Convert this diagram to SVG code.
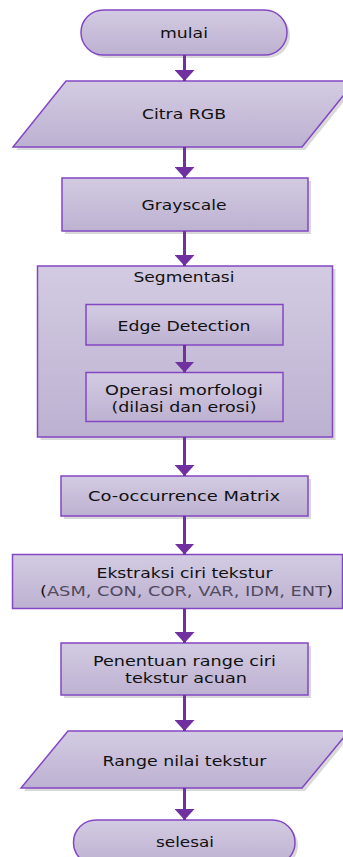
<svg xmlns="http://www.w3.org/2000/svg" width="343" height="857" viewBox="0 0 343 857">
<defs>
<linearGradient id="g" x1="0" y1="0" x2="0" y2="1">
<stop offset="0" stop-color="#d3cbe2"/>
<stop offset="1" stop-color="#bdb1d1"/>
</linearGradient>
<marker id="a" markerUnits="userSpaceOnUse" markerWidth="12" markerHeight="20" refX="11" refY="10" orient="auto" viewBox="0 0 12 20">
<path d="M0,0 L11,10 L0,20 Z" fill="#7030a0"/>
</marker>
</defs>
<style>
.s{fill:url(#g);stroke:#8447c4;stroke-width:1.5}
.sh{fill:#d9d9d9}
.t{font-family:"DejaVu Sans","Open Sans",sans-serif;font-size:14px;fill:#111;text-anchor:middle}
.c{stroke:#7030a0;stroke-width:3;fill:none;marker-end:url(#a)}
</style>
<g id="mulai">
<rect class="sh" x="84" y="13" width="206" height="45" rx="22.5"/>
<rect class="s" x="81" y="10" width="206" height="45" rx="22.5"/>
<text class="t" x="184" y="38" textLength="48" lengthAdjust="spacingAndGlyphs">mulai</text>
</g>
<g id="citra">
<polygon class="sh" points="69,84 358,84 305,150 16,150"/>
<polygon class="s" points="66,81 355,81 302,147 13,147"/>
<text class="t" x="184" y="118.5" textLength="84" lengthAdjust="spacingAndGlyphs">Citra RGB</text>
</g>
<g id="grayscale">
<rect class="sh" x="65" y="181" width="246" height="53"/>
<rect class="s" x="62" y="178" width="246" height="53"/>
<text class="t" x="184" y="209.5" textLength="85" lengthAdjust="spacingAndGlyphs">Grayscale</text>
</g>
<g id="segmentasi">
<rect class="sh" x="40.5" y="269" width="295" height="171"/>
<rect class="s" x="37.5" y="266" width="295" height="171"/>
<text class="t" x="184" y="282" textLength="101" lengthAdjust="spacingAndGlyphs">Segmentasi</text>
</g>
<g id="edge">
<rect class="s" x="86" y="304.5" width="197" height="40.5"/>
<text class="t" x="184" y="330.5" textLength="133" lengthAdjust="spacingAndGlyphs">Edge Detection</text>
</g>
<g id="morfologi">
<rect class="s" x="86" y="372.5" width="197" height="49"/>
<text class="t" x="184" y="395" textLength="158" lengthAdjust="spacingAndGlyphs">Operasi morfologi</text>
<text class="t" x="184" y="412" textLength="145" lengthAdjust="spacingAndGlyphs">(dilasi dan erosi)</text>
</g>
<g id="cooccurrence">
<rect class="sh" x="64" y="479" width="247" height="40"/>
<rect class="s" x="61" y="476" width="247" height="40"/>
<text class="t" x="184" y="501" textLength="192" lengthAdjust="spacingAndGlyphs">Co-occurrence Matrix</text>
</g>
<g id="ekstraksi">
<rect class="s" x="12.5" y="554.5" width="330" height="54"/>
<text class="t" x="184.5" y="578" textLength="176" lengthAdjust="spacingAndGlyphs">Ekstraksi ciri tekstur</text>
<text class="t" x="186.5" y="595.5" textLength="293" lengthAdjust="spacingAndGlyphs">(<tspan fill="#4f4a5e">ASM, CON, COR, VAR, IDM, ENT</tspan>)</text>
</g>
<g id="penentuan">
<rect class="sh" x="64" y="646" width="247" height="52"/>
<rect class="s" x="61" y="643" width="247" height="52"/>
<text class="t" x="184.5" y="665.5" textLength="183" lengthAdjust="spacingAndGlyphs">Penentuan range ciri</text>
<text class="t" x="186" y="682.5" textLength="122" lengthAdjust="spacingAndGlyphs">tekstur acuan</text>
</g>
<g id="range">
<polygon class="sh" points="71,734 352,734 305,791 24,791"/>
<polygon class="s" points="68,731 349,731 302,788 21,788"/>
<text class="t" x="184.5" y="765.5" textLength="164" lengthAdjust="spacingAndGlyphs">Range nilai tekstur</text>
</g>
<g id="selesai">
<rect class="sh" x="76.5" y="823" width="221.5" height="45" rx="22.5"/>
<rect class="s" x="73.5" y="820" width="221.5" height="45" rx="22.5"/>
<text class="t" x="185" y="847" textLength="58" lengthAdjust="spacingAndGlyphs">selesai</text>
</g>
<g id="connectors">
<line class="c" x1="184.5" y1="55" x2="184.5" y2="81"/>
<line class="c" x1="184.5" y1="147" x2="184.5" y2="178"/>
<line class="c" x1="184.5" y1="231" x2="184.5" y2="266"/>
<line class="c" x1="184.5" y1="345" x2="184.5" y2="372.5"/>
<line class="c" x1="184.5" y1="437" x2="184.5" y2="476"/>
<line class="c" x1="184.5" y1="516" x2="184.5" y2="554.5"/>
<line class="c" x1="184.5" y1="608.5" x2="184.5" y2="643"/>
<line class="c" x1="184.5" y1="695" x2="184.5" y2="731"/>
<line class="c" x1="184.5" y1="788" x2="184.5" y2="820"/>
</g>
</svg>
